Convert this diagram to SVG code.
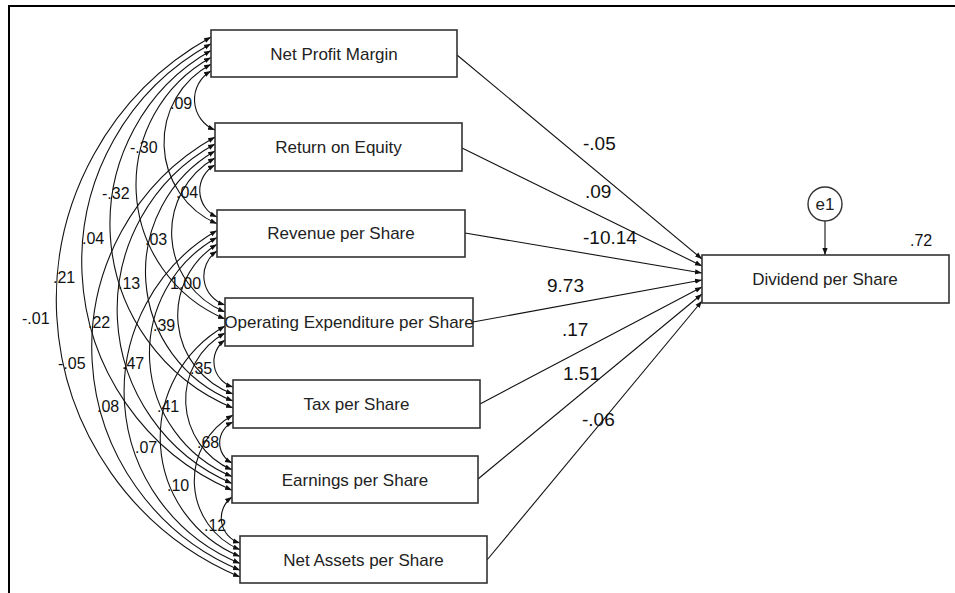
<svg xmlns="http://www.w3.org/2000/svg" width="955" height="593" viewBox="0 0 955 593">
<style>
.box{fill:#fff;stroke:#333;stroke-width:1.6}
.bt{font-family:"Liberation Sans",Arial,sans-serif;font-size:17px;fill:#222;text-anchor:middle}
.cv{fill:none;stroke:#111;stroke-width:1.1;marker-start:url(#ah);marker-end:url(#ah)}
.pth{fill:none;stroke:#111;stroke-width:1.1;marker-end:url(#ah)}
.cl{font-family:"Liberation Sans",Arial,sans-serif;font-size:16px;fill:#111}
.pl{font-family:"Liberation Sans",Arial,sans-serif;font-size:19px;fill:#111}
</style>
<defs>
<marker id="ah" viewBox="0 0 10 10" refX="10" refY="5" markerWidth="7" markerHeight="7" markerUnits="userSpaceOnUse" orient="auto-start-reverse">
<path d="M0,1.3 L10,5 L0,8.7 z" fill="#111"/>
</marker>
</defs>
<rect width="955" height="593" fill="#fff"/>
<g id="frame" stroke="#000" stroke-width="2" fill="none">
<path d="M9,593 V6 H955"/>
</g>
<g id="connectors">
<path class="cv" d="M211,71 A32.9,32.9 0 0 0 215,130"/>
<path class="cv" d="M211,64.2 A88.8,88.8 0 0 0 217,223.8"/>
<path class="cv" d="M211,57.4 A145.7,145.7 0 0 0 225,319"/>
<path class="cv" d="M211,50.6 A199.2,199.2 0 0 0 233,408"/>
<path class="cv" d="M211,43.8 A248.6,248.6 0 0 0 232,490.2"/>
<path class="cv" d="M211,37 A300.8,300.8 0 0 0 240,577"/>
<path class="cv" d="M215,165 A28.95,28.95 0 0 0 217,217"/>
<path class="cv" d="M215,158 A85.8,85.8 0 0 0 225,312"/>
<path class="cv" d="M215,151 A139.4,139.4 0 0 0 233,401"/>
<path class="cv" d="M215,144 A189,189 0 0 0 232,483.4"/>
<path class="cv" d="M215,137 A241.4,241.4 0 0 0 240,570.2"/>
<path class="cv" d="M217,251 A30.4,30.4 0 0 0 225,305"/>
<path class="cv" d="M217,244.2 A83.8,83.8 0 0 0 233,394"/>
<path class="cv" d="M217,237.4 A133.3,133.3 0 0 0 232,476.6"/>
<path class="cv" d="M217,230.6 A185.6,185.6 0 0 0 240,563.4"/>
<path class="cv" d="M225,340 A26.5,26.5 0 0 0 233,387"/>
<path class="cv" d="M225,333 A76.2,76.2 0 0 0 232,469.8"/>
<path class="cv" d="M225,326 A128.6,128.6 0 0 0 240,556.6"/>
<path class="cv" d="M233,422 A22.8,22.8 0 0 0 232,463"/>
<path class="cv" d="M233,415 A75.1,75.1 0 0 0 240,549.8"/>
<path class="cv" d="M232,497 A26,26 0 0 0 240,543"/>
<path class="pth" d="M457,55 L702,259"/>
<path class="pth" d="M462,148 L702,266"/>
<path class="pth" d="M465,233 L702,273"/>
<path class="pth" d="M473,322 L702,280"/>
<path class="pth" d="M480,404 L702,287"/>
<path class="pth" d="M478,479 L702,294"/>
<path class="pth" d="M487,560 L702,301"/>
<path class="pth" d="M825,221 L825,255"/>
<g id="cov-labels">
<text class="cl" x="170" y="109">.09</text>
<text class="cl" x="130" y="153">-.30</text>
<text class="cl" x="102" y="199">-.32</text>
<text class="cl" x="82" y="244">.04</text>
<text class="cl" x="53" y="283">.21</text>
<text class="cl" x="22" y="324">-.01</text>
<text class="cl" x="176" y="198">.04</text>
<text class="cl" x="145" y="245">.03</text>
<text class="cl" x="118" y="289">.13</text>
<text class="cl" x="88" y="328">.22</text>
<text class="cl" x="58" y="369">-.05</text>
<text class="cl" x="170" y="289">1.00</text>
<text class="cl" x="153" y="331">.39</text>
<text class="cl" x="122" y="369">.47</text>
<text class="cl" x="97" y="412">.08</text>
<text class="cl" x="190" y="374">.35</text>
<text class="cl" x="157" y="412">.41</text>
<text class="cl" x="135" y="453">.07</text>
<text class="cl" x="197" y="448">.68</text>
<text class="cl" x="167" y="491">.10</text>
<text class="cl" x="204" y="531">.12</text>
</g>
<g id="path-labels">
<text class="pl" x="583" y="150">-.05</text>
<text class="pl" x="585" y="198">.09</text>
<text class="pl" x="583" y="244">-10.14</text>
<text class="pl" x="547" y="292">9.73</text>
<text class="pl" x="562" y="336">.17</text>
<text class="pl" x="563" y="380">1.51</text>
<text class="pl" x="582" y="426">-.06</text>
</g>
</g>
<g id="npm"><rect class="box" x="211" y="30" width="246" height="47"/><text class="bt" x="334" y="60">Net Profit Margin</text></g>
<g id="roe"><rect class="box" x="215" y="123" width="247" height="48"/><text class="bt" x="338.5" y="153">Return on Equity</text></g>
<g id="rps"><rect class="box" x="217" y="210" width="248" height="47"/><text class="bt" x="341" y="239">Revenue per Share</text></g>
<g id="oes"><rect class="box" x="225" y="298" width="248" height="48"/><text class="bt" x="349" y="328">Operating Expenditure per Share</text></g>
<g id="tps"><rect class="box" x="233" y="380" width="247" height="48"/><text class="bt" x="356.5" y="410">Tax per Share</text></g>
<g id="eps"><rect class="box" x="232" y="456" width="246" height="47"/><text class="bt" x="355" y="486">Earnings per Share</text></g>
<g id="nas"><rect class="box" x="240" y="536" width="247" height="47"/><text class="bt" x="363.5" y="566">Net Assets per Share</text></g>
<g id="dps"><rect class="box" x="702" y="255" width="247" height="48"/><text class="bt" x="825" y="285">Dividend per Share</text><text class="cl" x="910" y="246">.72</text></g>
<g id="e1"><circle cx="825" cy="204" r="17" fill="#fff" stroke="#333" stroke-width="1.4"/><text class="bt" x="825" y="210">e1</text></g>
</svg>
